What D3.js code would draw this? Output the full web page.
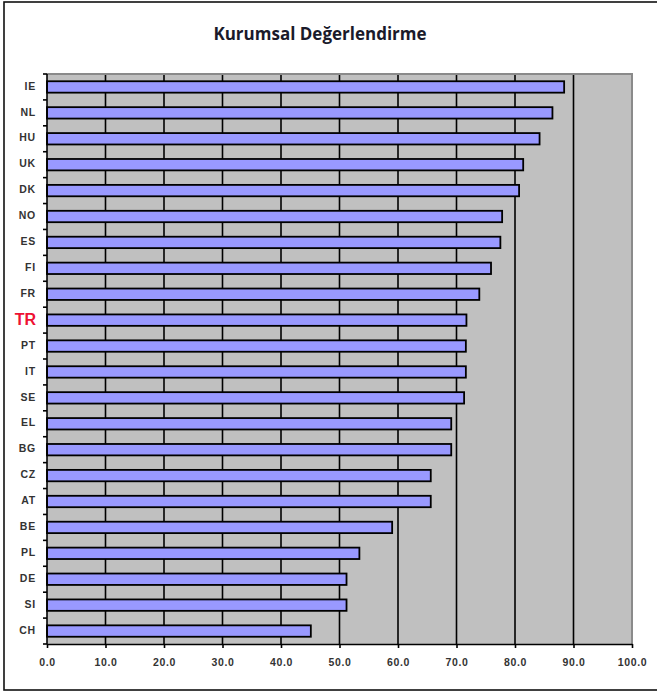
<!DOCTYPE html>
<html>
<head>
<meta charset="utf-8">
<script src="https://cdn.jsdelivr.net/npm/d3@7"></script>
<style>
  html, body { margin: 0; padding: 0; background: #fff; }
  svg { display: block; }
</style>
</head>
<body>
<svg id="chart" width="657" height="693"></svg>
<script>
const title = "Kurumsal Değerlendirme";
const countries = ["IE","NL","HU","UK","DK","NO","ES","FI","FR","TR","PT","IT","SE","EL","BG","CZ","AT","BE","PL","DE","SI","CH"];
const scores = [88.4,86.4,84.2,81.4,80.7,77.8,77.5,75.9,73.9,71.7,71.6,71.6,71.3,69.1,69.1,65.6,65.6,59.0,53.4,51.2,51.2,45.1];
const highlight = "TR";
const xTicks = [0,10,20,30,40,50,60,70,80,90,100];

const svg = d3.select("#chart");
const plot = { left: 47, right: 632, top: 74, bottom: 644 };

// outer frame
svg.append("rect")
  .attr("x", 4).attr("y", 2)
  .attr("width", 720).attr("height", 688)
  .attr("fill", "#fff").attr("stroke", "#111").attr("stroke-width", 1.6);

// title
svg.append("text")
  .attr("x", 320).attr("y", 40)
  .attr("text-anchor", "middle")
  .attr("font-family", "'Open Sans', 'Liberation Sans', sans-serif")
  .attr("font-weight", "bold")
  .attr("font-size", 17)
  .attr("fill", "#1a1a2a")
  .text(title);

const x = d3.scaleLinear().domain([0, 100]).range([plot.left, plot.right]);
const y = d3.scaleBand().domain(countries).range([plot.top, plot.bottom])
  .paddingInner(0.56).paddingOuter(0.28);

// plot background
svg.append("rect")
  .attr("x", x(0)).attr("y", plot.top)
  .attr("width", x(100) - x(0)).attr("height", plot.bottom - plot.top)
  .attr("fill", "#c0c0c0");

// vertical gridlines
svg.append("g").selectAll("line")
  .data(xTicks.filter(d => d > 0 && d < 100))
  .join("line")
  .attr("x1", d => x(d)).attr("x2", d => x(d))
  .attr("y1", plot.top).attr("y2", plot.bottom)
  .attr("stroke", "#000").attr("stroke-width", 1.6);

// plot border (top & right) gray
svg.append("path")
  .attr("d", `M${x(0)},${plot.top}H${x(100)}V${plot.bottom}`)
  .attr("fill", "none").attr("stroke", "#8a8a8a").attr("stroke-width", 2);

// bars
svg.append("g").selectAll("rect")
  .data(countries.map((c, i) => ({ c, v: scores[i] })))
  .join("rect")
  .attr("x", x(0))
  .attr("y", d => y(d.c))
  .attr("width", d => x(d.v) - x(0))
  .attr("height", y.bandwidth())
  .attr("fill", "#9999ff")
  .attr("stroke", "#000")
  .attr("stroke-width", 1.8);

// x axis
const xAxis = d3.axisBottom(x).tickValues(xTicks).tickFormat(d3.format(".1f")).tickSize(4).tickSizeOuter(0);
const gx = svg.append("g").attr("transform", `translate(0,${plot.bottom})`).call(xAxis);
gx.select(".domain").attr("stroke", "#000").attr("stroke-width", 1.6);
gx.selectAll(".tick line").attr("stroke", "#000").attr("stroke-width", 1.6);
gx.selectAll(".tick text")
  .attr("y", 15)
  .attr("font-family", "'Liberation Sans', Arial, sans-serif")
  .attr("font-size", 10.5)
  .attr("font-weight", "bold")
  .attr("letter-spacing", 0.6)
  .attr("fill", "#333");

// y axis line and ticks at band boundaries
const step = y.step();
svg.append("line")
  .attr("x1", x(0)).attr("x2", x(0))
  .attr("y1", plot.top).attr("y2", plot.bottom)
  .attr("stroke", "#000").attr("stroke-width", 1.6);
svg.append("g").selectAll("line")
  .data(d3.range(countries.length + 1))
  .join("line")
  .attr("x1", x(0) - 4).attr("x2", x(0))
  .attr("y1", i => plot.top + i * step).attr("y2", i => plot.top + i * step)
  .attr("stroke", "#000").attr("stroke-width", 1.6);

// category labels
svg.append("g").selectAll("text")
  .data(countries)
  .join("text")
  .attr("x", 36)
  .attr("y", d => y(d) + y.bandwidth() / 2 - 1)
  .attr("dy", "0.35em")
  .attr("text-anchor", "end")
  .attr("font-family", "'Liberation Sans', Arial, sans-serif")
  .attr("font-size", d => d === highlight ? 16 : 10.5)
  .attr("font-weight", "bold")
  .attr("letter-spacing", d => d === highlight ? 0 : 0.8)
  .attr("fill", d => d === highlight ? "#ee1133" : "#333")
  .text(d => d);
</script>
</body>
</html>
